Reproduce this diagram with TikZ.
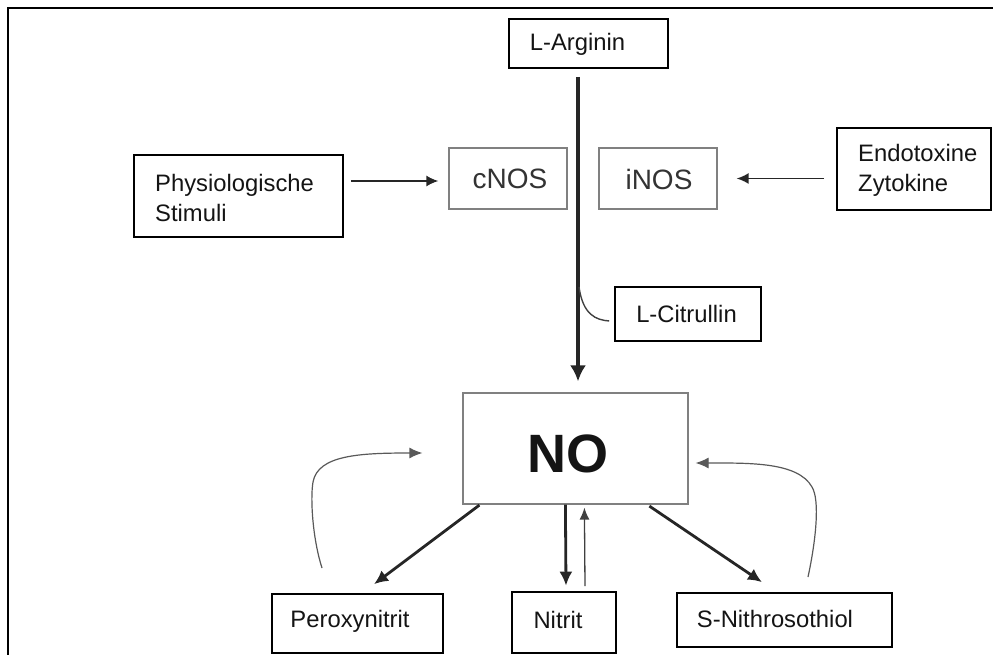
\documentclass[tikz,border=0pt]{standalone}
\usepackage{fontspec}
\setmainfont{Liberation Sans}
\usetikzlibrary{arrows.meta,calc}
\begin{document}
\begin{tikzpicture}[x=1pt,y=-1pt,
  box/.style={draw=black, line width=1.6pt, rectangle, inner sep=0pt},
  gbox/.style={draw=black!50, line width=1.2pt, rectangle, inner sep=0pt},
  lbl/.style={font=\fontsize{23.8}{30}\selectfont, text=black!92, inner sep=0pt},
  glbl/.style={font=\fontsize{28}{32}\selectfont, text=black!80, inner sep=0pt},
  arr/.style={-{Latex[length=12pt,width=11pt]}, line width=1.8pt, draw=black!85},
  mainarr/.style={-{Latex[length=16pt,width=16pt]}, line width=4.8pt, draw=black!85},
  thickarr/.style={-{Latex[length=14pt,width=13pt]}, line width=2.8pt, draw=black!85},
  thinarr/.style={-{Latex[length=12pt,width=10pt]}, line width=1.3pt, draw=black!75},
  curvearr/.style={-{Latex[length=13pt,width=11pt]}, line width=1.2pt, draw=black!65},
  curve/.style={line width=1.4pt, draw=black!75},
  frame/.style={line width=2.2pt, draw=black}
]
\useasboundingbox (0,0) rectangle (993,655);

% frame
\coordinate (fTR) at (993,8);
\coordinate (fTL) at (8,8);
\coordinate (fBL) at (8,655);
\draw[frame] (fBL) -- (fTL) -- (fTR);

% boxes
\node[box, minimum width=159pt, minimum height=49pt] (arg) at (588.5,43.5) {};
\node[lbl] (argt) at (577.5,44) {L-Arginin};

\node[gbox, minimum width=118pt, minimum height=61pt] (cnos) at (508,178.5) {};
\node[glbl] (cnost) at (510,179) {cNOS};
\node[gbox, minimum width=118pt, minimum height=61pt] (inos) at (658,178.5) {};
\node[glbl] (inost) at (659,179) {iNOS};

\node[box, minimum width=209pt, minimum height=82pt] (phys) at (238.5,196) {};
\node[lbl, anchor=west, align=left] (physt) at (155,198) {Physiologische\\Stimuli};

\node[box, minimum width=154pt, minimum height=82pt] (endo) at (914,169) {};
\node[lbl, anchor=west, align=left] (endot) at (858,170) {Endotoxine\\Zytokine};

\node[box, minimum width=146pt, minimum height=54pt] (citr) at (688,314) {};
\node[lbl] (citrt) at (686.5,314) {L-Citrullin};

\node[gbox, minimum width=225pt, minimum height=111pt] (no) at (575.5,448.5) {};
\node[inner sep=0pt, text=black!92, font=\fontsize{54}{58}\selectfont\bfseries] (not) at (568,454) {NO};

\node[box, minimum width=171pt, minimum height=59pt] (perox) at (357.5,623.5) {};
\node[lbl] (peroxt) at (350,621) {Peroxynitrit};

\node[box, minimum width=104pt, minimum height=61pt] (nitrit) at (564,622.5) {};
\node[lbl] (nitritt) at (558,620) {Nitrit};

\node[box, minimum width=215pt, minimum height=54pt] (snit) at (784.5,620) {};
\node[lbl] (snitt) at (775,619) {S-Nithrosothiol};

% main arrow
\draw[mainarr] ($(arg.south)+(-10.5,8)$) -- ($(no.north)+(2.5,-11)$);
% citrullin branch
\coordinate (cb) at (579,287);
\coordinate (ce) at ($(citr.west)+(-5,7)$);
\draw[curve] (cb) .. controls (583,315) and (596,320) .. (ce);

% side arrows
\draw[arr] ($(phys.east)+(7,-15)$) -- ($(cnos.west)+(-10,2.5)$);
\draw[arr] ($(endo.west)+(-12,9.5)$) -- ($(inos.east)+(19,0)$);

% product arrows
\draw[thickarr] ($(no.south west)+(17,0.5)$) -- ($(perox.north)+(16.5,-9)$);
\draw[thickarr] ($(no.south west)+(103,0)$) -- ($(nitrit.north)+(2,-5.5)$);
\draw[thinarr] ($(nitrit.north)+(21,-5)$) -- ($(no.south west)+(122,3)$);
\draw[thickarr] ($(no.south west)+(187,1.5)$) -- ($(snit.north)+(-22.5,-10)$);

% feedback curves
\coordinate (lfs) at (322,568);
\coordinate (lfe) at ($(no.west)+(-40,4.5)$);
\draw[curvearr] (lfs) .. controls (313,540) and (310,500) .. (313,482)
  .. controls (318,455) and (360,453) .. (lfe);
\coordinate (rfs) at (808,577);
\coordinate (rfe) at ($(no.east)+(7,14.5)$);
\draw[curvearr] (rfs) .. controls (816,540) and (820,500) .. (812,487)
  .. controls (798,462) and (750,463) .. (rfe);
\end{tikzpicture}
\end{document}
